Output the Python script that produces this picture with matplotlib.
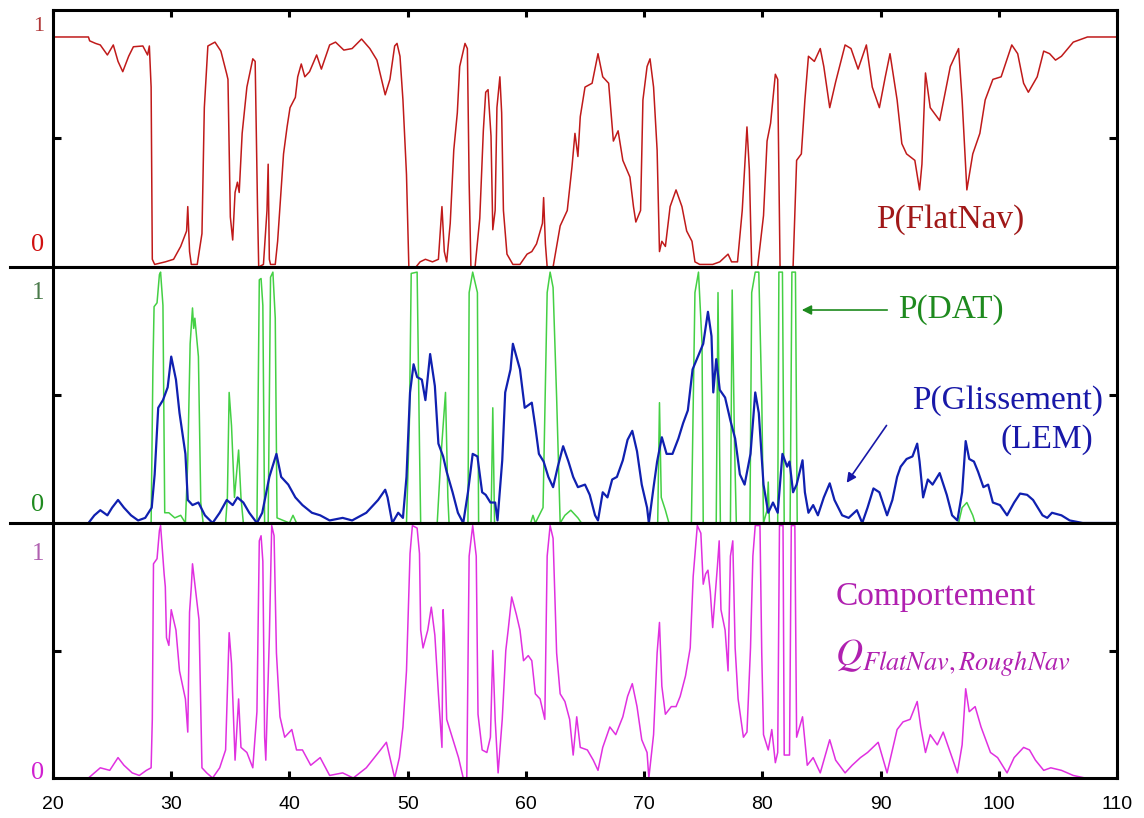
import matplotlib
matplotlib.use("Agg")
import matplotlib.pyplot as plt
from matplotlib.lines import Line2D

plt.rcParams['mathtext.fontset'] = 'stix'

# --- data ---
x_ticks = [20, 30, 40, 50, 60, 70, 80, 90, 100, 110]

flatnav_x = [20.0, 23.0, 23.1, 23.6, 24.0, 24.6, 25.1, 25.5, 25.9, 26.4, 26.8, 27.6, 28.0, 28.15, 28.3, 28.4,
             28.6, 29.5, 30.2, 30.8, 31.3, 31.4, 31.55, 31.7, 32.2, 32.6, 32.8, 33.1, 33.7, 34.2, 34.7, 34.8,
             35.0, 35.2, 35.4, 35.6, 35.75, 36.0, 36.4, 36.9, 37.1, 37.3, 37.4, 37.8, 38.1, 38.2, 38.3, 38.4,
             38.8, 39.0, 39.5, 39.8, 40.05, 40.5, 40.7, 41.0, 41.3, 41.7, 42.3, 42.7, 43.4, 43.9, 44.6, 45.3,
             46.1, 46.8, 47.4, 48.1, 48.5, 48.9, 49.1, 49.35, 49.6, 49.9, 50.1, 50.7, 51.05, 51.5, 52.1, 52.6,
             52.9, 53.1, 53.3, 53.6, 53.9, 54.2, 54.4, 54.85, 55.05, 55.2, 55.35, 55.7, 56.1, 56.4, 56.6, 56.8,
             57.05, 57.2, 57.4, 57.55, 57.8, 57.95, 58.1, 58.4, 58.9, 59.5, 60.1, 60.5, 60.9, 61.4, 61.5, 61.65,
             61.8, 62.3, 62.9, 63.5, 63.9, 64.15, 64.4, 64.6, 65.0, 65.6, 66.1, 66.5, 67.0, 67.4, 67.8, 68.2,
             68.8, 69.1, 69.3, 69.7, 69.9, 70.25, 70.5, 70.8, 71.1, 71.3, 71.5, 71.8, 72.2, 72.7, 73.2, 73.6,
             74.05, 74.3, 74.7, 75.8, 76.4, 77.1, 77.4, 77.9, 78.3, 78.7, 78.9, 79.1, 79.6, 80.1, 80.4, 80.7,
             81.1, 81.3, 81.5, 82.6, 82.9, 83.3, 83.6, 83.9, 84.4, 84.9, 85.2, 85.7, 86.2, 87.0, 87.5, 88.1,
             88.8, 89.3, 89.9, 90.4, 90.8, 91.4, 91.8, 92.2, 92.9, 93.3, 93.5, 93.8, 94.2, 95.0, 95.9, 96.6,
             96.9, 97.3, 97.8, 98.4, 98.85, 99.5, 100.2, 101.1, 101.6, 102.1, 102.5, 103.25, 103.8, 104.3,
             104.8, 105.3, 106.3, 107.5, 110.0]
flatnav_y = [0.895, 0.895, 0.88, 0.87, 0.864, 0.825, 0.864, 0.80, 0.76, 0.82, 0.857, 0.86, 0.825, 0.86, 0.70, 0.03,
             0.01, 0.02, 0.03, 0.08, 0.14, 0.235, 0.06, 0.01, 0.01, 0.13, 0.62, 0.86, 0.875, 0.84, 0.75, 0.73,
             0.195, 0.105, 0.29, 0.33, 0.29, 0.52, 0.70, 0.81, 0.80, 0.23, 0.0, 0.01, 0.22, 0.40, 0.03, 0.01,
             0.01, 0.10, 0.44, 0.545, 0.62, 0.66, 0.74, 0.79, 0.74, 0.76, 0.825, 0.77, 0.864, 0.875, 0.844, 0.85,
             0.887, 0.85, 0.805, 0.67, 0.73, 0.86, 0.87, 0.82, 0.65, 0.36, 0.0, 0.0, 0.02, 0.03, 0.02, 0.03,
             0.235, 0.06, 0.02, 0.17, 0.455, 0.60, 0.78, 0.87, 0.85, 0.33, 0.0, 0.0, 0.19, 0.53, 0.68, 0.69,
             0.51, 0.145, 0.22, 0.62, 0.74, 0.60, 0.22, 0.05, 0.01, 0.01, 0.05, 0.06, 0.09, 0.17, 0.27, 0.09,
             0.0, 0.0, 0.16, 0.22, 0.39, 0.52, 0.43, 0.585, 0.70, 0.715, 0.83, 0.74, 0.715, 0.49, 0.53, 0.415,
             0.35, 0.235, 0.175, 0.22, 0.65, 0.78, 0.81, 0.70, 0.455, 0.06, 0.10, 0.08, 0.235, 0.30, 0.235, 0.14,
             0.10, 0.02, 0.01, 0.01, 0.02, 0.05, 0.02, 0.02, 0.22, 0.545, 0.38, 0.0, 0.0, 0.2, 0.49, 0.56,
             0.75, 0.73, 0.0, 0.0, 0.415, 0.44, 0.65, 0.82, 0.80, 0.85, 0.78, 0.62, 0.72, 0.864, 0.85, 0.77,
             0.864, 0.70, 0.62, 0.74, 0.83, 0.65, 0.48, 0.44, 0.415, 0.30, 0.40, 0.755, 0.62, 0.57, 0.78, 0.85,
             0.65, 0.30, 0.44, 0.52, 0.65, 0.73, 0.74, 0.864, 0.83, 0.715, 0.68, 0.74, 0.84, 0.83,
             0.805, 0.82, 0.875, 0.895, 0.895]

dat_x = [20.0, 28.3, 28.45, 28.55, 28.8, 29.0, 29.1, 29.3, 29.45, 29.8, 30.3, 30.8, 31.2, 31.4, 31.6, 31.8,
         31.9, 32.0, 32.3, 32.5, 32.7, 34.6, 34.75, 34.9, 35.1, 35.35, 35.7, 35.9, 36.1, 37.25, 37.45, 37.6,
         37.75, 37.9, 38.2, 38.4, 38.6, 38.8, 38.95, 40.0, 40.3, 40.6, 49.9, 50.15, 50.3, 50.8, 51.0, 51.1,
         52.5, 52.8, 53.2, 53.4, 53.5, 55.1, 55.2, 55.5, 55.9, 56.0, 57.05, 57.2, 57.35, 60.4, 60.6, 60.8,
         61.45, 61.8, 62.05, 62.3, 62.6, 62.9, 63.3, 63.8, 64.4, 64.7, 71.15, 71.3, 71.45, 71.8, 72.1, 74.0,
         74.3, 74.6, 74.9, 75.0, 76.1, 76.25, 76.45, 77.3, 77.45, 77.65, 77.8, 78.95, 79.1, 79.4, 79.7, 79.95,
         80.1, 80.4, 80.5, 80.6, 81.3, 81.4, 81.7, 81.85, 82.35, 82.5, 82.8, 82.95, 96.6, 96.9, 97.3, 97.8,
         98.0, 110.0]
dat_y = [0.0, 0.0, 0.60, 0.845, 0.86, 0.97, 0.98, 0.85, 0.04, 0.04, 0.02, 0.03, 0.0, 0.245, 0.70, 0.84,
         0.76, 0.80, 0.65, 0.08, 0.0, 0.0, 0.10, 0.51, 0.38, 0.10, 0.285, 0.10, 0.0, 0.0, 0.95, 0.955,
         0.85, 0.0, 0.0, 0.96, 0.98, 0.80, 0.02, 0.0, 0.03, 0.0, 0.0, 0.40, 0.975, 0.98, 0.30, 0.0,
         0.0, 0.25, 0.51, 0.10, 0.0, 0.0, 0.90, 0.98, 0.90, 0.0, 0.0, 0.45, 0.0, 0.0, 0.03, 0.0,
         0.06, 0.90, 0.98, 0.92, 0.49, 0.0, 0.03, 0.05, 0.02, 0.0, 0.0, 0.47, 0.10, 0.05, 0.0, 0.0,
         0.90, 0.98, 0.70, 0.0, 0.0, 0.90, 0.0, 0.0, 0.91, 0.30, 0.0, 0.0, 0.90, 0.98, 0.98, 0.49,
         0.0, 0.05, 0.16, 0.0, 0.0, 0.98, 0.98, 0.0, 0.0, 0.98, 0.98, 0.0, 0.0, 0.06, 0.08, 0.03,
         0.0, 0.0]

lem_x = [23.0, 23.5, 24.0, 24.6, 25.0, 25.5, 26.0, 26.6, 27.2, 27.8, 28.35, 28.6, 28.9, 29.3, 29.7, 30.0,
         30.4, 30.7, 31.2, 31.4, 31.8, 32.3, 32.85, 33.5, 34.1, 34.7, 35.2, 35.6, 36.1, 36.6, 37.25, 37.7,
         38.3, 38.9, 39.3, 39.9, 40.5, 41.1, 41.9, 42.6, 43.4, 44.5, 45.3, 46.5, 47.5, 48.1, 48.3, 48.7,
         49.2, 49.6, 49.9, 50.2, 50.5, 50.8, 51.2, 51.5, 51.9, 52.3, 52.6, 53.0, 53.3, 53.8, 54.25, 54.7,
         55.1, 55.5, 55.9, 56.3, 56.6, 57.0, 57.4, 57.6, 58.0, 58.25, 58.7, 58.9, 59.2, 59.5, 59.9, 60.5,
         60.8, 61.1, 61.5, 61.9, 62.3, 62.7, 63.15, 63.6, 64.0, 64.4, 65.0, 65.4, 65.85, 66.1, 66.5, 66.9,
         67.3, 67.7, 68.2, 68.6, 69.0, 69.4, 69.8, 70.25, 70.4, 70.8, 71.1, 71.5, 71.9, 72.4, 72.9, 73.3,
         73.7, 74.1, 74.6, 75.0, 75.4, 75.7, 75.85, 76.1, 76.4, 76.85, 77.3, 77.7, 78.1, 78.5, 79.0, 79.4,
         79.7, 80.1, 80.5, 80.9, 81.3, 81.7, 82.1, 82.3, 82.6, 82.9, 83.4, 83.6, 83.9, 84.3, 84.7, 85.2,
         85.7, 86.1, 86.75, 87.3, 88.0, 88.45, 88.9, 89.4, 89.9, 90.55, 91.0, 91.4, 91.7, 92.2, 92.7, 93.1,
         93.3, 93.6, 94.0, 94.4, 95.0, 95.6, 96.05, 96.5, 96.9, 97.2, 97.5, 97.9, 98.25, 98.7, 99.1, 99.5,
         100.1, 100.7, 101.3, 101.8, 102.4, 102.9, 103.7, 104.1, 104.5, 105.3, 106.0, 107.1, 110.0]
lem_y = [0.0, 0.03, 0.05, 0.03, 0.06, 0.09, 0.06, 0.03, 0.01, 0.02, 0.06, 0.19, 0.45, 0.48, 0.53, 0.65,
         0.56, 0.43, 0.27, 0.09, 0.07, 0.08, 0.03, 0.0, 0.04, 0.09, 0.07, 0.10, 0.08, 0.04, 0.0, 0.04,
         0.18, 0.27, 0.18, 0.15, 0.10, 0.07, 0.04, 0.03, 0.01, 0.02, 0.01, 0.04, 0.09, 0.13, 0.10, 0.0,
         0.04, 0.02, 0.18, 0.51, 0.62, 0.57, 0.56, 0.48, 0.66, 0.535, 0.31, 0.26, 0.20, 0.12, 0.04, 0.0,
         0.12, 0.27, 0.26, 0.12, 0.11, 0.08, 0.08, 0.01, 0.245, 0.51, 0.60, 0.70, 0.65, 0.60, 0.45, 0.47,
         0.375, 0.27, 0.24, 0.18, 0.14, 0.22, 0.30, 0.24, 0.18, 0.14, 0.15, 0.11, 0.03, 0.01, 0.12, 0.10,
         0.17, 0.18, 0.245, 0.325, 0.36, 0.28, 0.15, 0.06, 0.0, 0.14, 0.24, 0.335, 0.27, 0.27, 0.33, 0.39,
         0.44, 0.60, 0.655, 0.70, 0.825, 0.73, 0.51, 0.64, 0.52, 0.49, 0.40, 0.33, 0.19, 0.15, 0.27, 0.51,
         0.43, 0.15, 0.04, 0.08, 0.04, 0.27, 0.22, 0.24, 0.12, 0.15, 0.245, 0.12, 0.04, 0.07, 0.03, 0.10,
         0.155, 0.09, 0.03, 0.02, 0.05, 0.0, 0.06, 0.135, 0.12, 0.03, 0.09, 0.18, 0.22, 0.25, 0.26, 0.31,
         0.24, 0.10, 0.17, 0.15, 0.195, 0.11, 0.03, 0.01, 0.12, 0.32, 0.25, 0.24, 0.20, 0.14, 0.15, 0.08,
         0.07, 0.03, 0.08, 0.115, 0.11, 0.09, 0.03, 0.02, 0.04, 0.03, 0.01, 0.0, 0.0]

comp_x = [23.0, 24.0, 24.8, 25.5, 26.0, 26.7, 27.3, 27.9, 28.3, 28.4, 28.5, 28.8, 29.0, 29.1, 29.4, 29.5,
          29.6, 29.8, 30.0, 30.4, 30.7, 31.2, 31.4, 31.55, 31.7, 31.8, 32.0, 32.35, 32.6, 33.0, 33.5, 34.1,
          34.6, 34.9, 35.1, 35.4, 35.7, 35.9, 36.4, 36.9, 37.25, 37.45, 37.6, 37.75, 37.9, 38.0, 38.3, 38.5,
          38.7, 38.9, 39.2, 39.6, 40.2, 40.6, 41.1, 41.8, 42.6, 43.4, 44.5, 45.4, 46.5, 47.7, 48.2, 48.5,
          48.9, 49.3, 49.6, 49.9, 50.2, 50.4, 50.8, 51.0, 51.1, 51.3, 51.7, 52.0, 52.3, 52.6, 52.9, 53.0,
          53.1, 53.3, 53.7, 54.3, 54.7, 55.0, 55.2, 55.5, 55.8, 55.95, 56.3, 56.7, 57.0, 57.2, 57.4, 57.65,
          58.0, 58.3, 58.5, 58.8, 59.2, 59.5, 59.8, 60.2, 60.5, 60.8, 61.2, 61.6, 61.8, 62.05, 62.3, 62.6,
          62.9, 63.3, 63.7, 64.0, 64.3, 64.6, 65.2, 65.7, 66.1, 66.5, 67.1, 67.6, 68.2, 68.6, 69.0, 69.4,
          69.8, 70.25, 70.4, 70.8, 71.1, 71.3, 71.5, 71.8, 72.3, 72.7, 73.05, 73.5, 73.9, 74.15, 74.5, 74.8,
          75.0, 75.2, 75.4, 75.6, 75.8, 76.2, 76.35, 76.5, 76.85, 77.1, 77.3, 77.5, 77.7, 77.95, 78.4, 78.7,
          79.0, 79.2, 79.4, 79.8, 79.95, 80.1, 80.5, 80.8, 81.1, 81.3, 81.45, 81.75, 81.85, 82.3, 82.45, 82.75,
          82.9, 83.4, 83.8, 84.3, 84.9, 85.7, 86.2, 87.0, 87.6, 88.3, 88.9, 89.8, 90.55, 91.4, 91.9, 92.5,
          93.1, 93.4, 93.8, 94.2, 94.8, 95.3, 95.9, 96.5, 96.9, 97.2, 97.5, 98.0, 98.5, 99.3, 99.9, 100.7,
          101.3, 102.1, 102.6, 103.1, 103.8, 104.4, 105.3, 106.3, 107.3]
comp_y = [0.0, 0.04, 0.03, 0.08, 0.05, 0.02, 0.01, 0.03, 0.04, 0.23, 0.84, 0.86, 0.97, 0.99, 0.80, 0.75,
          0.55, 0.52, 0.66, 0.58, 0.42, 0.31, 0.18, 0.65, 0.75, 0.84, 0.76, 0.62, 0.04, 0.02, 0.0, 0.04,
          0.11, 0.57, 0.45, 0.07, 0.31, 0.12, 0.10, 0.04, 0.26, 0.93, 0.95, 0.85, 0.16, 0.07, 0.55, 0.99,
          0.95, 0.49, 0.24, 0.16, 0.19, 0.11, 0.11, 0.05, 0.08, 0.01, 0.02, 0.0, 0.04, 0.11, 0.14, 0.08,
          0.0, 0.08, 0.20, 0.42, 0.88, 0.99, 0.98, 0.88, 0.58, 0.51, 0.58, 0.67, 0.56, 0.33, 0.12, 0.66,
          0.56, 0.23, 0.17, 0.08, 0.0, 0.0, 0.87, 0.99, 0.87, 0.25, 0.11, 0.10, 0.16, 0.50, 0.23, 0.02,
          0.23, 0.50, 0.58, 0.71, 0.64, 0.58, 0.46, 0.48, 0.46, 0.33, 0.31, 0.23, 0.87, 0.99, 0.94, 0.49,
          0.33, 0.30, 0.23, 0.09, 0.24, 0.12, 0.11, 0.07, 0.03, 0.12, 0.20, 0.17, 0.24, 0.32, 0.37, 0.28,
          0.15, 0.10, 0.0, 0.17, 0.49, 0.61, 0.36, 0.25, 0.28, 0.28, 0.32, 0.40, 0.51, 0.79, 0.99, 0.96,
          0.76, 0.80, 0.815, 0.73, 0.59, 0.83, 0.93, 0.66, 0.58, 0.42, 0.87, 0.93, 0.51, 0.31, 0.16, 0.18,
          0.51, 0.87, 0.99, 0.99, 0.49, 0.17, 0.11, 0.19, 0.06, 0.10, 0.99, 0.99, 0.09, 0.09, 0.99, 0.99,
          0.16, 0.24, 0.05, 0.08, 0.02, 0.15, 0.07, 0.02, 0.05, 0.08, 0.10, 0.14, 0.02, 0.19, 0.22, 0.23,
          0.30, 0.20, 0.10, 0.17, 0.13, 0.18, 0.10, 0.02, 0.13, 0.35, 0.26, 0.28, 0.20, 0.10, 0.08, 0.02,
          0.08, 0.12, 0.11, 0.07, 0.03, 0.04, 0.03, 0.01, 0.0]

# --- figure ---
fig = plt.figure(figsize=(11.44, 8.18), dpi=100)
L, W = 53 / 1144, 1064 / 1144
ax1 = fig.add_axes([L, 1 - 267 / 818, W, 257 / 818])
ax2 = fig.add_axes([L, 1 - 523 / 818, W, 256 / 818])
ax3 = fig.add_axes([L, 1 - 778 / 818, W, 255 / 818])

for ax in (ax1, ax2, ax3):
    ax.set_xlim(20, 110)
    ax.set_ylim(0, 1)
    for s in ax.spines.values():
        s.set_linewidth(2.2)
    ax.set_yticks([0.5])
    ax.tick_params(axis='y', direction='in', left=True, right=True, labelleft=False,
                   length=6, width=2.2)
    ax.set_xticks(x_ticks)
    ax.tick_params(axis='x', direction='in', bottom=False, top=False, labelbottom=False,
                   length=5, width=2.2)

ax1.tick_params(axis='x', top=True)
ax3.tick_params(axis='x', bottom=True, labelbottom=True, pad=13)
ax3.set_xticklabels([str(v) for v in x_ticks], fontsize=14, family='Liberation Sans')

# separators running out to the left
for yy in (1 - 267 / 818, 1 - 523 / 818):
    fig.add_artist(Line2D([10 / 1144, L], [yy, yy], transform=fig.transFigure,
                          color='black', lw=2.2))

ax1.plot(flatnav_x, flatnav_y, color='#c01a1a', lw=1.1)
ax2.plot(dat_x, dat_y, color='#44d044', lw=1.1)
ax2.plot(lem_x, lem_y, color='#1020b0', lw=1.6)
ax3.plot(comp_x, comp_y, color='#e030e0', lw=1.1)

# 0 / 1 labels
serif = 'Liberation Serif'
labs = [(ax1, 0.934, 0.086, '#b03838', '#d01010', 16),
        (ax2, 0.90, 0.07, '#4a7a4a', '#1f8a1f', 18),
        (ax3, 0.88, 0.02, '#b060b0', '#d020d0', 18)]
for ax, y1, y0, c1, c0, fs1 in labs:
    ax.text(-0.008, y1, '1', transform=ax.transAxes, ha='right', va='center',
            fontsize=fs1, family=serif, color=c1)
    ax.text(-0.008, y0, '0', transform=ax.transAxes, ha='right', va='center',
            fontsize=19, family=serif, color=c0)

ax1.text(95.9, 0.183, 'P(FlatNav)', ha='center', va='center', fontsize=24,
         family=serif, color='#a01818')

ax2.text(91.5, 0.832, 'P(DAT)', ha='left', va='center', fontsize=24,
         family=serif, color='#1e8a1e')
ax2.annotate('', xy=(83.1, 0.832), xytext=(90.8, 0.832),
             arrowprops=dict(arrowstyle='-|>', color='#1e8a1e', lw=1.2, mutation_scale=14))
ax2.text(108.8, 0.48, 'P(Glissement)', ha='right', va='center', fontsize=24,
         family=serif, color='#1818a8')
ax2.text(108.0, 0.324, '(LEM)', ha='right', va='center', fontsize=24,
         family=serif, color='#1818a8')
ax2.annotate('', xy=(87.0, 0.148), xytext=(90.64, 0.39),
             arrowprops=dict(arrowstyle='-|>', color='#1818a8', lw=1.2, mutation_scale=14))

ax3.text(86.16, 0.71, 'Comportement', ha='left', va='center', fontsize=24,
         family=serif, color='#b020b0')
ax3.text(86.16, 0.47, r'$Q_{FlatNav,RoughNav}$', ha='left', va='center', fontsize=27,
         color='#b020b0')

plt.savefig("out.png", dpi=100)
